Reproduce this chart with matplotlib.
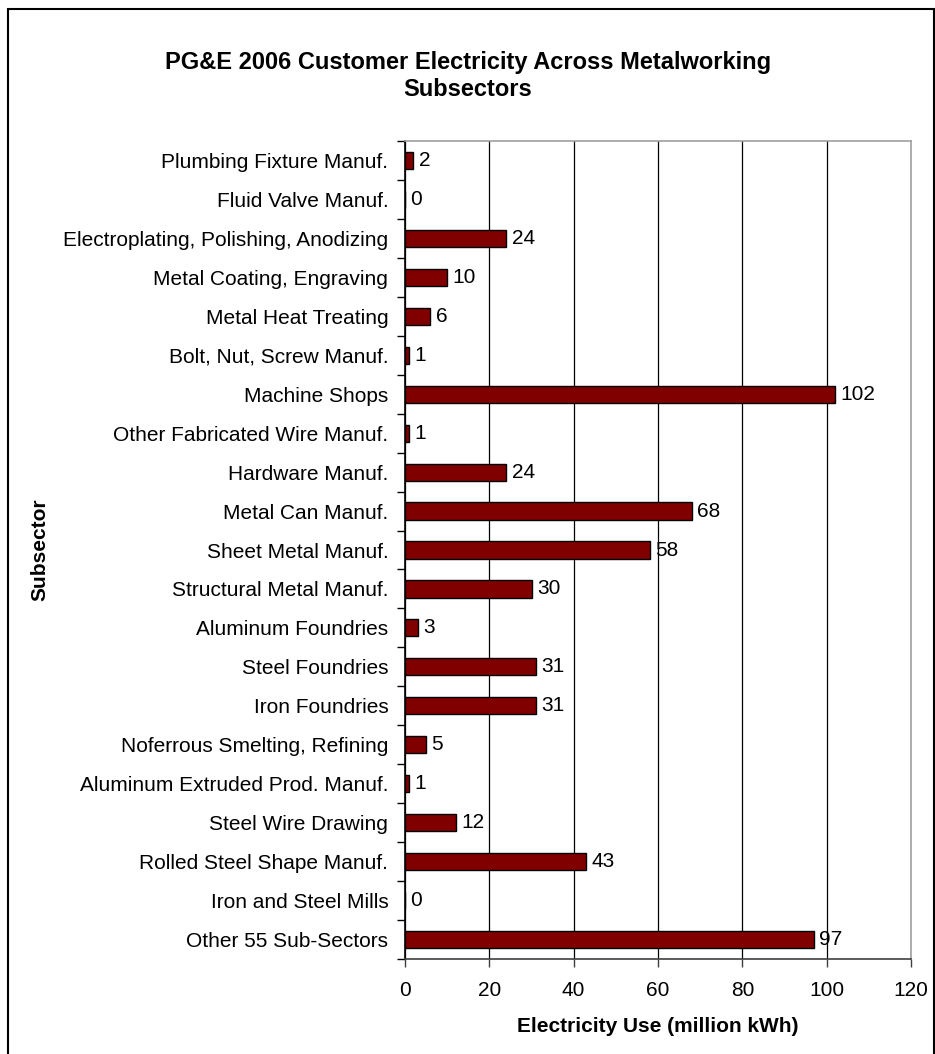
import numpy as np
import matplotlib.pyplot as plt
from matplotlib.patches import Rectangle

plt.rcParams['font.family'] = ['Liberation Sans', 'DejaVu Sans']

subsectors = [
    'Plumbing Fixture Manuf.',
    'Fluid Valve Manuf.',
    'Electroplating, Polishing, Anodizing',
    'Metal Coating, Engraving',
    'Metal Heat Treating',
    'Bolt, Nut, Screw Manuf.',
    'Machine Shops',
    'Other Fabricated Wire Manuf.',
    'Hardware Manuf.',
    'Metal Can Manuf.',
    'Sheet Metal Manuf.',
    'Structural Metal Manuf.',
    'Aluminum Foundries',
    'Steel Foundries',
    'Iron Foundries',
    'Noferrous Smelting, Refining',
    'Aluminum Extruded Prod. Manuf.',
    'Steel Wire Drawing',
    'Rolled Steel Shape Manuf.',
    'Iron and Steel Mills',
    'Other 55 Sub-Sectors',
]
usage = [2, 0, 24, 10, 6, 1, 102, 1, 24, 68, 58, 30, 3, 31, 31, 5, 1, 12, 43, 0, 97]
xticks = [0, 20, 40, 60, 80, 100, 120]

W, H = 935, 1054
fig = plt.figure(figsize=(W / 100, H / 100), dpi=100)

# outer chart frame (bottom edge runs off the page)
fig.patches.append(Rectangle((8 / W, -0.05), (934 - 8) / W, 1.05 - 9 / H,
                             transform=fig.transFigure, fill=False,
                             edgecolor='black', lw=1.5))

ax = fig.add_axes([405 / W, 1 - 959 / H, 506 / W, (959 - 141) / H])

y = np.arange(len(subsectors))
ax.barh(y, usage, height=0.44, color='#800000', edgecolor='black', lw=1, zorder=3)

for yi, v in zip(y, usage):
    ax.text(v + 1.3, yi, f'{v:.0f}', va='center', ha='left', fontsize=15)

ax.set_xlim(0, 120)
ax.set_ylim(len(subsectors) - 0.5, -0.5)

ax.set_xticks(xticks)
ax.set_xticklabels([str(t) for t in xticks], fontsize=15)
ax.set_yticks(y)
ax.set_yticklabels(subsectors, fontsize=15)
ax.set_yticks(np.arange(len(subsectors) + 1) - 0.5, minor=True)
ax.tick_params(axis='y', which='major', length=0, pad=12)
ax.tick_params(axis='y', which='minor', length=6, width=1, color='black')
ax.tick_params(axis='x', length=6, width=1, color='#404040', pad=10)

ax.grid(axis='x', color='black', lw=0.9, zorder=1)
ax.spines['left'].set_color('black')
ax.spines['bottom'].set_color('#404040')
ax.spines['top'].set_color('#a0a0a0')
ax.spines['right'].set_color('#a0a0a0')
for s in ax.spines.values():
    s.set_linewidth(1.2)

ax.set_xlabel('Electricity Use (million kWh)', fontsize=15, fontweight='bold', labelpad=12)
fig.text(40 / W, 1 - 550 / H, 'Subsector', rotation=90, ha='center', va='center',
         fontsize=15, fontweight='bold')
fig.text(468 / W, 1 - 76 / H,
         'PG&E 2006 Customer Electricity Across Metalworking\nSubsectors',
         ha='center', va='center', fontsize=17, fontweight='bold', linespacing=1.2)

fig.savefig('out.png', dpi=100)
